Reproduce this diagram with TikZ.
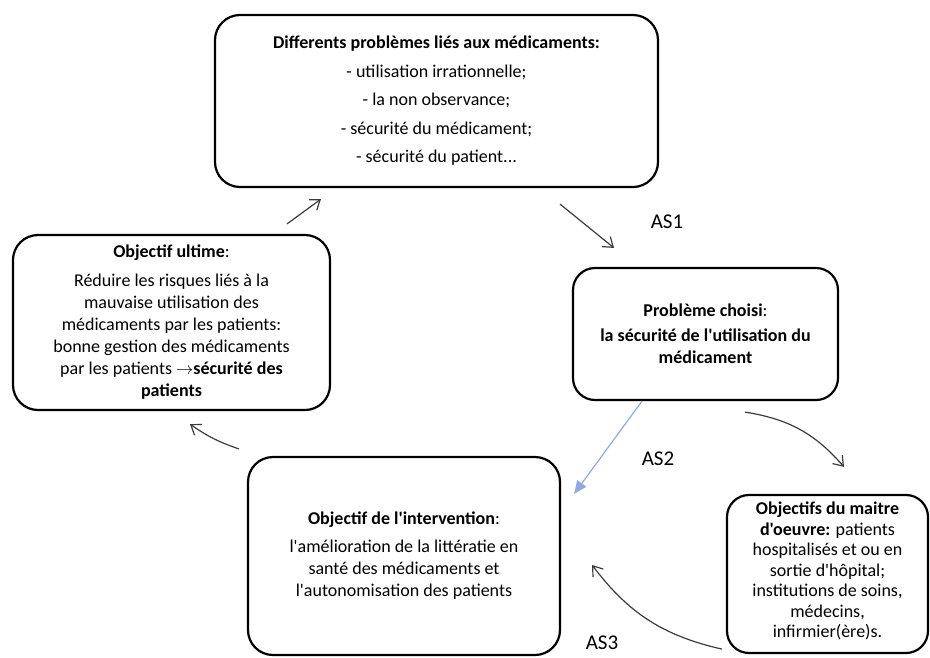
\documentclass[tikz,border=0pt]{standalone}
\usepackage{fontspec}
\setmainfont{Carlito}[Ligatures=TeXOff]
\usetikzlibrary{arrows.meta}
\definecolor{bleu}{RGB}{143,170,220}
\definecolor{fleche}{RGB}{60,60,60}

\begin{document}
\begin{tikzpicture}[x=1pt,y=-1pt]
	      \tikzstyle{every node}=[font=\fontsize{18}{22}\selectfont]
	      \tikzstyle{bloc}=[draw,line width=2.2pt,rounded corners=25pt,align=center,inner sep=0pt]
	      \tikzstyle{fl}=[line width=1.2pt,fleche,-{Straight Barb[length=9pt,width=13pt]}]
	      \useasboundingbox (0,0) rectangle (930,657);
	      \node[bloc,minimum width=443,minimum height=172,font=\fontsize{18}{28.5}\selectfont](problemes) at (436.5,101){\textbf{Differents problèmes liés aux médicaments:}\\- utilisation irrationnelle;\\- la non observance;\\- sécurité du médicament;\\- sécurité du patient...};
	      \node[bloc,minimum width=317,minimum height=175](ultime) at (171.5,322.5){\textbf{Objectif ultime}:\\[7pt]Réduire les risques liés à la\\mauvaise utilisation des\\médicaments par les patients:\\bonne gestion des médicaments\\par les patients $\rightarrow$\textbf{sécurité des}\\\textbf{patients}};
	      \node[bloc,minimum width=265,minimum height=132,rounded corners=22pt](choisi) at (705.5,334){\textbf{Problème choisi}:\\[3pt]\textbf{la sécurité de l'utilisation du}\\\textbf{médicament}};
	      \node[bloc,minimum width=312,minimum height=198](intervention) at (404,556){\textbf{Objectif de l'intervention}:\\[6pt]l'amélioration de la littératie en\\santé des médicaments et\\l'autonomisation des patients};
	      \node[bloc,minimum width=201,minimum height=158,rounded corners=22pt,font=\fontsize{18}{20.5}\selectfont,text depth=8pt](maitre) at (827.5,574){\textbf{Objectifs du maitre}\\\textbf{d'oeuvre:} patients\\hospitalisés et ou en\\sortie d'hôpital;\\institutions de soins,\\médecins,\\infirmier(ère)s.};
	      \draw[fl]([xshift=115.5pt,yshift=10pt]ultime.north)--([xshift=-115.5pt,yshift=-11pt]problemes.south);
	      \draw[fl]([xshift=123.5pt,yshift=-16pt]problemes.south)--([xshift=-91.5pt,yshift=19pt]choisi.north);
	      \draw[fl]([xshift=39.5pt,yshift=-11pt]choisi.south) to[bend left=20] ([xshift=16.5pt,yshift=27pt]maitre.north);
	      \draw[line width=1.2pt,bleu,-{Triangle[length=13pt,width=11pt]}]([xshift=-63.5pt]choisi.south)--([xshift=13pt,yshift=-38pt]intervention.north east);
	      \draw[fl]([xshift=-4pt,yshift=5pt]maitre.south west) to[bend left=20] ([xshift=31pt,yshift=-9pt]intervention.east);
	      \draw[fl]([xshift=-8pt,yshift=7pt]intervention.north west) to[bend left=8] ([xshift=18.5pt,yshift=-13pt]ultime.south);
	      \node[font=\fontsize{21}{24}\selectfont](as1) at (667,222){AS1};
	      \node[font=\fontsize{21}{24}\selectfont](as2) at (658,459){AS2};
	      \node[font=\fontsize{21}{24}\selectfont](as3) at (602,643){AS3};
	    \end{tikzpicture}
\end{document}
